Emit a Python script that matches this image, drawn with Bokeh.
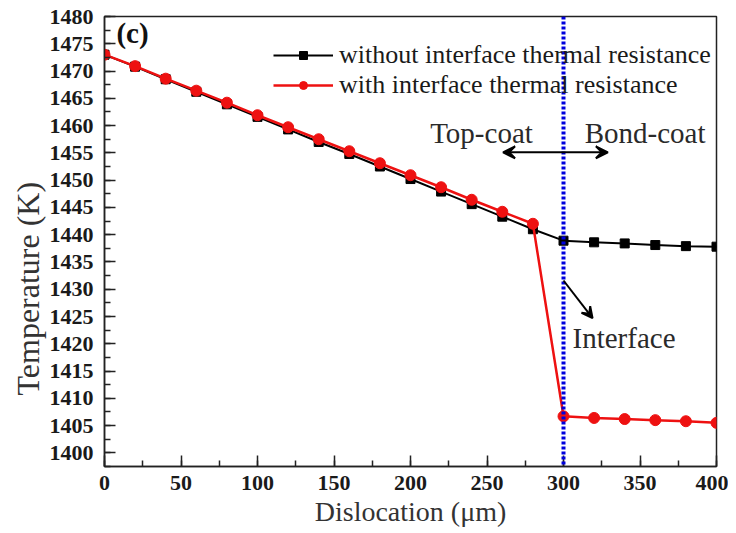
from bokeh.plotting import figure
from bokeh.models import (Range1d, SingleIntervalTicker, Legend, LegendItem, Span,
                          Arrow, VeeHead, Label, Title)
from bokeh.embed import file_html
from bokeh.resources import INLINE

# Data
dislocation = [0, 20, 40, 60, 80, 100, 120, 140, 160, 180, 200, 220, 240, 260, 280,
               300, 320, 340, 360, 380, 400]
temp_without = [1473.0, 1470.8, 1468.5, 1466.2, 1463.9, 1461.6, 1459.3, 1457.0, 1454.8,
                1452.5, 1450.2, 1447.9, 1445.6, 1443.3, 1441.0, 1438.9, 1438.6, 1438.4,
                1438.1, 1437.9, 1437.8]
temp_with = [1473.0, 1470.9, 1468.6, 1466.4, 1464.2, 1461.9, 1459.7, 1457.5, 1455.3,
             1453.1, 1450.9, 1448.7, 1446.4, 1444.2, 1442.0, 1406.7, 1406.4, 1406.2,
             1406.0, 1405.8, 1405.5]
series_labels = ["without interface thermal resistance", "with interface thermal resistance"]
interface_x = 300

SERIF = "Liberation Serif"

p = figure(width=728, height=533, output_backend="svg", toolbar_location=None,
           x_range=Range1d(0, 400), y_range=Range1d(1397.5, 1480),
           min_border_left=104, min_border_right=12, min_border_top=16, min_border_bottom=67)
p.background_fill_color = "white"
p.border_fill_color = "white"
p.outline_line_color = "#222222"
p.outline_line_width = 1.5
p.grid.visible = False

p.xaxis.ticker = SingleIntervalTicker(interval=50, num_minor_ticks=2)
p.yaxis.ticker = SingleIntervalTicker(interval=5, num_minor_ticks=2)
for ax in (p.xaxis, p.yaxis):
    ax.major_tick_in = 11
    ax.major_tick_out = 0
    ax.minor_tick_in = 6
    ax.minor_tick_out = 0
    ax.axis_line_width = 1.5
    ax.axis_line_color = "#222222"
    ax.major_tick_line_color = "#222222"
    ax.minor_tick_line_color = "#222222"
    ax.major_tick_line_width = 1.5
    ax.minor_tick_line_width = 1.5
    ax.major_label_text_font = SERIF
    ax.major_label_text_font_style = "bold"
    ax.major_label_text_color = "#1a1a1a"
    ax.axis_label_text_font = SERIF
    ax.axis_label_text_font_style = "normal"
    ax.axis_label_text_color = "#333333"

p.yaxis.major_label_text_font_size = "22px"
p.xaxis.major_label_text_font_size = "22px"
p.xaxis.axis_label = "Dislocation (\u03bcm)"
p.xaxis.axis_label_text_font_size = "28px"
p.yaxis.major_label_standoff = 11
p.xaxis.major_label_standoff = 9
p.xaxis.axis_label_standoff = 3

# y-axis title, placed lower than the frame centre as in the reference
p.add_layout(Title(text="Temperature (K)", align="left", offset=71,
                   text_font=SERIF, text_font_size="32px", text_font_style="normal",
                   text_color="#333333", standoff=2), "left")

# Interface line
p.add_layout(Span(location=interface_x, dimension="height", line_color="#0000dd",
                  line_width=4, line_dash="3 2"))

l1 = p.line(dislocation, temp_without, line_color="black", line_width=2)
m1 = p.scatter(dislocation, temp_without, marker="square", size=9, color="black")
l2 = p.line(dislocation, temp_with, line_color="#ee1111", line_width=2.5)
m2 = p.scatter(dislocation, temp_with, marker="circle", size=11, color="#ee1111")

legend = Legend(items=[LegendItem(label=series_labels[0], renderers=[l1, m1]),
                       LegendItem(label=series_labels[1], renderers=[l2, m2])],
                location=(169, 366), orientation="vertical",
                border_line_color=None, background_fill_alpha=0,
                label_text_font=SERIF, label_text_font_size="26px",
                label_text_color="#1a1a1a",
                glyph_width=60, glyph_height=20, label_height=20,
                label_standoff=6, spacing=0, padding=0, margin=0)
p.add_layout(legend)

# Annotations
p.add_layout(Arrow(start=VeeHead(size=12, line_color="black", fill_color="black", line_width=2),
                   end=VeeHead(size=12, line_color="black", fill_color="black", line_width=2),
                   x_start=260.5, y_start=1455.1, x_end=329, y_end=1455.1,
                   line_width=2, line_color="black"))
p.add_layout(Arrow(end=VeeHead(size=11, line_color="black", fill_color="black", line_width=2),
                   x_start=300, y_start=1431.6, x_end=319, y_end=1424.7,
                   line_width=2, line_color="black"))

for txt, x, y, anchor in [("Top-coat", 246.4, 1458.6, "center"),
                          ("Bond-coat", 392.8, 1458.6, "right"),
                          ("Interface", 305.9, 1421.0, "left")]:
    p.add_layout(Label(x=x, y=y, text=txt, text_font=SERIF, text_font_size="29px",
                       text_color="#2a2a2a", text_align=anchor, text_baseline="middle"))

p.add_layout(Label(x=7.8, y=1477.0, text="(c)", text_font=SERIF, text_font_size="29px",
                   text_font_style="bold", text_color="#111111", text_baseline="middle"))

open("out.html", "w").write(file_html(p, INLINE))
